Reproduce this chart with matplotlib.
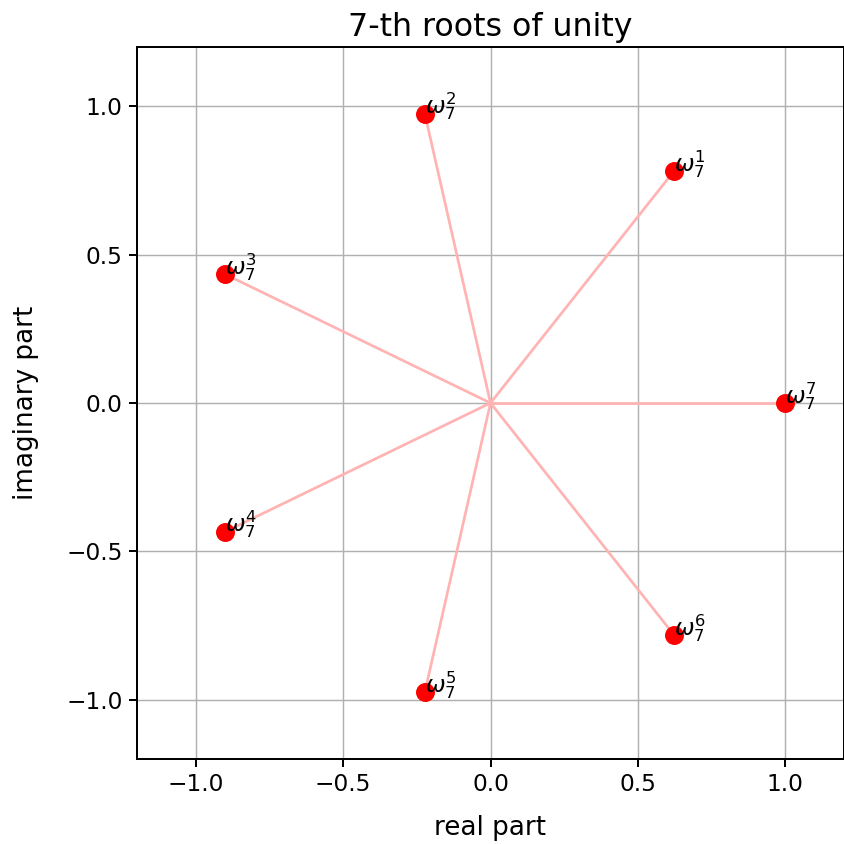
import matplotlib
matplotlib.use('Agg')
import matplotlib.pyplot as plt

# roots of unity (k = 1..7)
powers = [1, 2, 3, 4, 5, 6, 7]
re_part = [0.623, -0.223, -0.901, -0.901, -0.223, 0.623, 1.0]
im_part = [0.782, 0.975, 0.434, -0.434, -0.975, -0.782, 0.0]
ticks = [-1.0, -0.5, 0.0, 0.5, 1.0]

fig = plt.figure(figsize=(844 / 130, 844 / 130), dpi=130)
ax = fig.add_axes([137 / 844, 1 - 759 / 844, 707 / 844, 712 / 844])

# spokes from the origin (opaque light red, covers the grid)
for x, y in zip(re_part, im_part):
    ax.plot([0, x], [0, y], color='#ffb3b3', linewidth=1.5)

ax.plot(re_part, im_part, 'o', color='red', markersize=9.5, linestyle='none')

for k, x, y in zip(powers, re_part, im_part):
    ax.text(x, y, r'$\omega_7^{%d}$' % k, fontsize=13)

ax.set_xlim(-1.2, 1.2)
ax.set_ylim(-1.2, 1.2)
ax.set_xticks(ticks)
ax.set_yticks(ticks)
ax.tick_params(labelsize=12.9, width=1.1, length=4.5)
for sp in ax.spines.values():
    sp.set_linewidth(1.1)
ax.grid(True)

ax.set_xlabel('real part', fontsize=14.5, labelpad=10.5)
ax.set_ylabel('imaginary part', fontsize=14.5, labelpad=15)
ax.set_title('7-th roots of unity', fontsize=17.5)

plt.savefig('out.png', dpi=130)
